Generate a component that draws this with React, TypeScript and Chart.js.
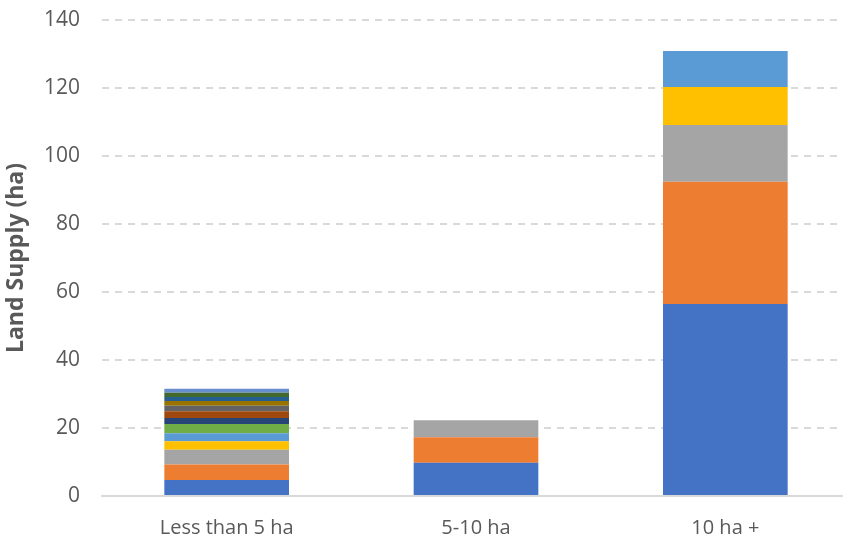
import React, { useEffect, useRef } from "react";
import { Chart, registerables } from "chart.js";

Chart.register(...registerables);

const categories = ["Less than 5 ha", "5-10 ha", "10 ha +"];

const seriesNames = [
  "Series 1", "Series 2", "Series 3", "Series 4", "Series 5", "Series 6", "Series 7",
  "Series 8", "Series 9", "Series 10", "Series 11", "Series 12", "Series 13",
];

const series1 = [4.7, 9.8, 56.5];
const series2 = [4.6, 7.5, 35.9];
const series3 = [4.3, 5.0, 16.7];
const series4 = [2.5, 0, 11.2];
const series5 = [2.35, 0, 10.6];
const series6 = [2.7, 0, 0];
const series7 = [1.8, 0, 0];
const series8 = [2.0, 0, 0];
const series9 = [1.6, 0, 0];
const series10 = [1.4, 0, 0];
const series11 = [1.2, 0, 0];
const series12 = [1.2, 0, 0];
const series13 = [1.2, 0, 0];

const allSeries = [
  series1, series2, series3, series4, series5, series6, series7,
  series8, series9, series10, series11, series12, series13,
];

const colors = [
  "#4472C4", "#ED7D31", "#A5A5A5", "#FFC000", "#5B9BD5", "#70AD47", "#264478",
  "#9E480E", "#636363", "#997300", "#255E91", "#43682B", "#698ED0",
];

const yTicks = [0, 20, 40, 60, 80, 100, 120, 140];

export default function App() {
  const ref = useRef<HTMLCanvasElement>(null);
  useEffect(() => {
    if (!ref.current) return;
    const font = "'Open Sans', 'Liberation Sans', sans-serif";
    const chart = new Chart(ref.current, {
      type: "bar",
      data: {
        labels: categories,
        datasets: allSeries.map((d, i) => ({
          label: seriesNames[i],
          data: d,
          backgroundColor: colors[i],
          borderWidth: 0,
          barPercentage: 0.5,
          categoryPercentage: 1,
        })),
      },
      options: {
        animation: false,
        responsive: false,
        maintainAspectRatio: false,
        layout: { padding: { top: 20, left: 0, right: 0, bottom: 0 } },
        plugins: { legend: { display: false }, tooltip: { enabled: false } },
        scales: {
          x: {
            stacked: true,
            grid: { display: false },
            border: { display: true, color: "#D9D9D9", width: 2 },
            ticks: { color: "#595959", font: { family: font, size: 20 }, padding: 12 },
            afterFit: (s: any) => {
              s.height = 42;
              s.paddingLeft = 0;
              s.paddingRight = 0;
            },
          },
          y: {
            stacked: true,
            min: 0,
            max: 140,
            afterBuildTicks: (s: any) => { s.ticks = yTicks.map((v) => ({ value: v })); },
            grid: { color: "#D9D9D9", lineWidth: 2, drawTicks: false },
            border: { display: false, dash: [7, 6] },
            ticks: { color: "#595959", font: { family: font, size: 21 }, padding: 22 },
            title: {
              display: true,
              text: "Land Supply (ha)",
              color: "#595959",
              font: { family: font, size: 23, weight: "bold" },
              padding: { top: 3, bottom: 0 },
            },
            afterFit: (s: any) => {
              s.width = 102;
              s.paddingTop = 0;
              s.paddingBottom = 0;
            },
          },
        },
      },
    });
    return () => chart.destroy();
  }, []);
  return (
    <div style={{ position: "fixed", left: 0, top: 0, width: 850, height: 538, background: "#fff" }}>
      <canvas ref={ref} width={850} height={538} style={{ width: 850, height: 538 }} />
    </div>
  );
}
